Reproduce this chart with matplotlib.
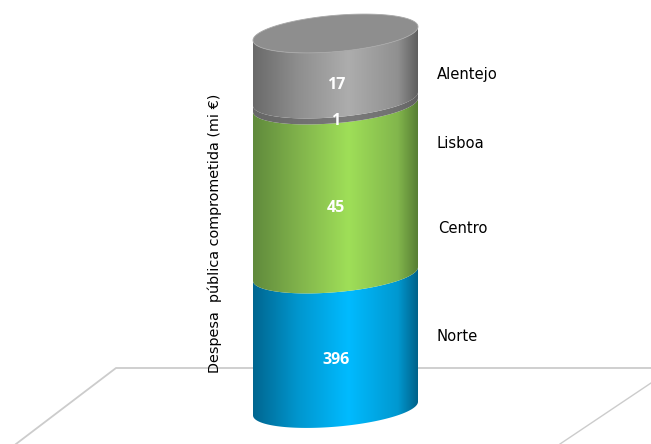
#!/usr/bin/env python3
"""Stacked 3D-look cylinder of committed public spending by region."""

import matplotlib
matplotlib.use('Agg')
import matplotlib.pyplot as plt
from matplotlib.colors import LinearSegmentedColormap
from matplotlib.patches import Polygon
import numpy as np

# Bottom to top
regions = ['Norte', 'Centro', 'Lisboa', 'Alentejo']
values = [396, 45, 1, 17]
band_colors = [
    ('#006690', '#0096CE', '#00BBFF', '#0098D0', '#00628A'),
    ('#608A3C', '#80B24B', '#9FDF58', '#82B64C', '#587F34'),
    ('#666666', '#707070', '#7A7A7A', '#707070', '#606060'),
    ('#6A6A6A', '#8E8E8E', '#ADADAD', '#909090', '#5F5F5F'),
]
y_title = 'Despesa  pública comprometida (mi €)'

# The value axis is broken: cumulative totals map to pixel rows piecewise
scale_values = [0, 396, 441, 442, 459]
scale_rows = [408.5, 274, 105, 99, 33.5]

LEFT, RIGHT = 253, 418
CX = (LEFT + RIGHT) / 2
A = (RIGHT - LEFT) / 2
TILT = 6.8
B = 18.2

label_rows = {'Alentejo': 74, 'Lisboa': 143, 'Centro': 228, 'Norte': 336}
label_cols = {'Alentejo': 437, 'Lisboa': 436, 'Centro': 438, 'Norte': 437}


def to_row(v):
    return np.interp(v, scale_values, scale_rows)


def front_arc(cy):
    """Lower half of the tilted ellipse, left to right."""
    t = np.linspace(np.pi, 0, 120)
    return CX + A * np.cos(t), cy - TILT * np.cos(t) + B * np.sin(t)


def gradient_fill(ax, verts, colors, zorder):
    cmap = LinearSegmentedColormap.from_list(
        'band', list(zip([0, 0.27, 0.58, 0.88, 1], colors)))
    grad = np.linspace(0, 1, 256).reshape(1, -1)
    im = ax.imshow(grad, cmap=cmap, extent=(LEFT, RIGHT, 444, 0),
                   aspect='auto', zorder=zorder, interpolation='bilinear')
    patch = Polygon(verts, closed=True, transform=ax.transData,
                    facecolor='none', edgecolor='none')
    ax.add_patch(patch)
    im.set_clip_path(patch)


fig = plt.figure(figsize=(6.51, 4.44), dpi=100)
ax = fig.add_axes([0, 0, 1, 1])

# Floor lines
floor = '#CCCCCC'
ax.plot([16, 116, 651], [444, 368, 368], color=floor, linewidth=1.3, zorder=1)
ax.plot([560, 651], [444, 383], color=floor, linewidth=1.0, zorder=1)

totals = np.cumsum(values)
base = 0
for i, (name, val) in enumerate(zip(regions, values)):
    top = totals[i]
    lower, upper = to_row(base), to_row(top)
    xb, yb = front_arc(lower)
    xt, yt = front_arc(upper)
    verts = np.vstack([np.column_stack([xb, yb]),
                       np.column_stack([xt[::-1], yt[::-1]])])
    gradient_fill(ax, verts, band_colors[i], 2 + i)
    ax.text(336, (lower + upper) / 2 + 18.5, str(val), color='white',
            fontsize=11.5, fontweight='bold', family='Open Sans',
            ha='center', va='center', zorder=10)
    ax.text(label_cols[name], label_rows[name], name, color='black',
            fontsize=10.6, family='DejaVu Sans', ha='left', va='center')
    base = top

# Top face of the cylinder
cy = to_row(scale_values[-1])
t = np.linspace(0, 2 * np.pi, 240)
top_face = np.column_stack([CX + A * np.cos(t),
                            cy - TILT * np.cos(t) + B * np.sin(t)])
ax.add_patch(Polygon(top_face, closed=True, facecolor='#8E8E8E',
                     edgecolor='#A8A8A8', linewidth=0.6, zorder=8))

ax.text(215, 233.5, y_title, rotation=90, color='black', fontsize=10.4,
        family='DejaVu Sans', ha='center', va='center', zorder=10)

ax.set_xlim(0, 651)
ax.set_ylim(444, 0)
ax.axis('off')

fig.savefig('out.png', dpi=100, facecolor='white')
